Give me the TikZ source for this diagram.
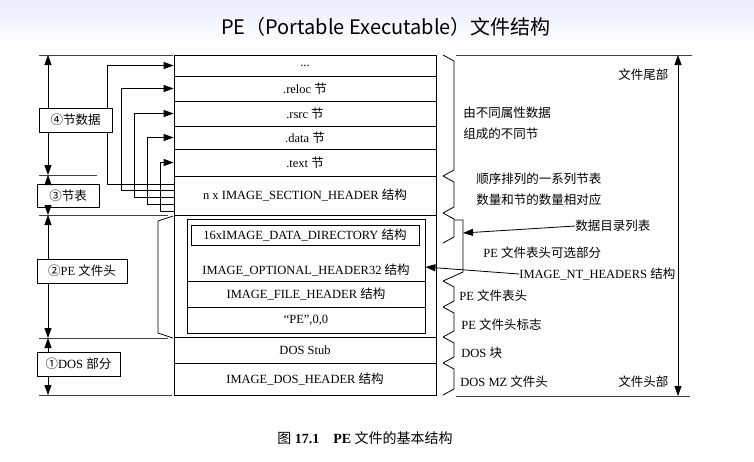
\documentclass[tikz,border=0pt]{standalone}
\usepackage{fontspec}
\setmainfont{Liberation Serif}
\newfontfamily\cjk{Noto Sans CJK SC}
\usetikzlibrary{arrows.meta}
\tikzset{
  blk/.style={draw, minimum width=262pt, inner sep=0pt},
  sub/.style={draw, minimum width=238pt, inner sep=0pt},
  part/.style={draw, fill=white, inner sep=0pt, minimum height=24pt},
  note/.style={anchor=west, inner sep=0pt},
  arr/.style={-{Triangle[length=10pt,width=7pt]}},
  guide/.style={line width=0.6pt, black!75},
}

\begin{document}
\begin{tikzpicture}[x=1pt, y=-1pt, line width=0.8pt, font=\fontsize{12.5}{14}\selectfont]
	\useasboundingbox (0,0) rectangle (754,461);
	\shade[top color=blue!8, bottom color=white] (0,0) rectangle (754,45);
	\node (title) at (386,27) {\cjk\fontsize{20}{23}\selectfont PE（Portable Executable）文件结构};

	% file layout
	\node[blk, minimum height=21pt] (dots) at (305,65.5) {...};
	\node[blk, minimum height=25pt] (reloc) at (305,88.5) {.reloc {\cjk 节}};
	\node[blk, minimum height=25pt] (rsrc) at (305,113.5) {.rsrc {\cjk 节}};
	\node[blk, minimum height=23pt] (data) at (305,137.5) {.data {\cjk 节}};
	\node[blk, minimum height=27pt] (text) at (305,162.5) {.text {\cjk 节}};
	\node[blk, minimum height=39pt] (secthdr) at (305,195.5) {n x IMAGE\_SECTION\_HEADER {\cjk 结构}};
	\node[blk, minimum height=122pt] (pehdr) at (305,276) {};
	\node[sub, minimum height=114pt] (peinner) at (306,276) {};
	\node[draw, minimum width=228pt, minimum height=20pt, inner sep=0pt] (datadir) at (305,235) {16xIMAGE\_DATA\_DIRECTORY {\cjk 结构}};
	\node (opthdr) at (306,270) {IMAGE\_OPTIONAL\_HEADER32 {\cjk 结构}};
	\node[sub, minimum height=26pt] (filehdr) at (306,294) {IMAGE\_FILE\_HEADER {\cjk 结构}};
	\node[sub, minimum height=26pt] (sig) at (306,320) {“PE”,0,0};
	\node[blk, minimum height=26pt] (dosstub) at (305,350) {DOS Stub};
	\node[blk, minimum height=32pt] (doshdr) at (305,379) {IMAGE\_DOS\_HEADER {\cjk 结构}};

	% left side
	\coordinate (b55) at (48,55);
	\coordinate (b175) at (48,175);
	\coordinate (b215) at (48,215);
	\coordinate (b338) at (48,338);
	\coordinate (b395) at (48,395);
	\draw[guide] (39,55) -- (173,55);
	\draw[guide] (39,175) -- (97,175);
	\draw[guide] (39,215) -- (168,215);
	\draw[guide] (39,338) -- (168,338);
	\draw[guide] (39,395) -- (172,395);
	\foreach \row/\x/\y in {dots/107/184, reloc/121/190, rsrc/134/197, data/147/204, text/160/211}
		\draw[arr] (secthdr.west |- 0,\y) -- (\x,\y) |- (\row.west);
	\draw (173,216) -- (158,221) -- (158,333) -- (173,338);

	\node[part, minimum width=73pt] (sec4) at (75.5,120) {\cjk ④节数据};
	\node[part, minimum width=62pt, minimum height=23pt] (sec3) at (68,195.5) {\cjk ③节表};
	\node[part, minimum width=90pt] (sec2) at (82,271) {{\cjk ②}PE {\cjk 文件头}};
	\node[part, minimum width=83pt] (sec1) at (78.5,364) {{\cjk ①}DOS {\cjk 部分}};
	\draw[arr] (sec4.north -| b55) -- (b55);
	\draw[arr] (sec4.south -| b55) -- (b175);
	\draw[arr] (sec3.north -| b55) -- (b175);
	\draw[arr] (sec3.south -| b55) -- (b215);
	\draw[arr] (sec2.north -| b55) -- (b215);
	\draw[arr] (sec2.south -| b55) -- (b338);
	\draw[arr] (sec1.north -| b55) -- (b338);
	\draw[arr] (sec1.south -| b55) -- (b395);

	% right side
	\foreach \a/\b in {55/176, 176/213, 213/243, 281/307, 307/337, 337/363, 363/395}
		\draw (443,\a) -- (454,\a+6) -- (454,\b-6) -- (443,\b);
	\draw (454,220) -- (463,220) -- (463,272) -- (443,281);

	\node[note] (n1) at (463,113) {\cjk 由不同属性数据};
	\node[note] (n1b) at (463,134) {\cjk 组成的不同节};
	\node[note] (n2) at (476,179) {\cjk 顺序排列的一系列节表};
	\node[note] (n2b) at (476,200) {\cjk 数量和节的数量相对应};
	\node[note] (ddlist) at (575,226) {\cjk 数据目录列表};
	\node[note] (optnote) at (483,253) {PE {\cjk 文件表头可选部分}};
	\node[note] (nthdr) at (519,274) {IMAGE\_NT\_HEADERS {\cjk 结构}};
	\node[note] (fhnote) at (459,296) {PE {\cjk 文件表头}};
	\node[note] (signote) at (461,325) {PE {\cjk 文件头标志}};
	\node[note] (stubnote) at (461,353) {DOS {\cjk 块}};
	\node[note] (mznote) at (460,382) {DOS MZ {\cjk 文件头}};
	\node[note] (tail) at (618,75) {\cjk 文件尾部};
	\node[note] (head) at (618,382) {\cjk 文件头部};

	\coordinate (ddtip) at (463,233);
	\draw[arr] (ddlist.west) -- (ddtip);
	\draw[arr] (nthdr.west) -- (peinner.east |- 0,267);

	\coordinate (ftop) at (678,55);
	\coordinate (fbot) at (678,396);
	\draw[guide] (456,55) -- (692,55);
	\draw[guide] (456,396) -- (690,396);
	\draw[{Triangle[length=10pt,width=7pt]}-{Triangle[length=10pt,width=7pt]}] (ftop) -- (fbot);

	\node (caption) at (365,438) {\fontsize{14}{16}\selectfont{\cjk 图} \textbf{17.1}\quad\textbf{PE} {\cjk 文件的基本结构}};
\end{tikzpicture}
\end{document}
